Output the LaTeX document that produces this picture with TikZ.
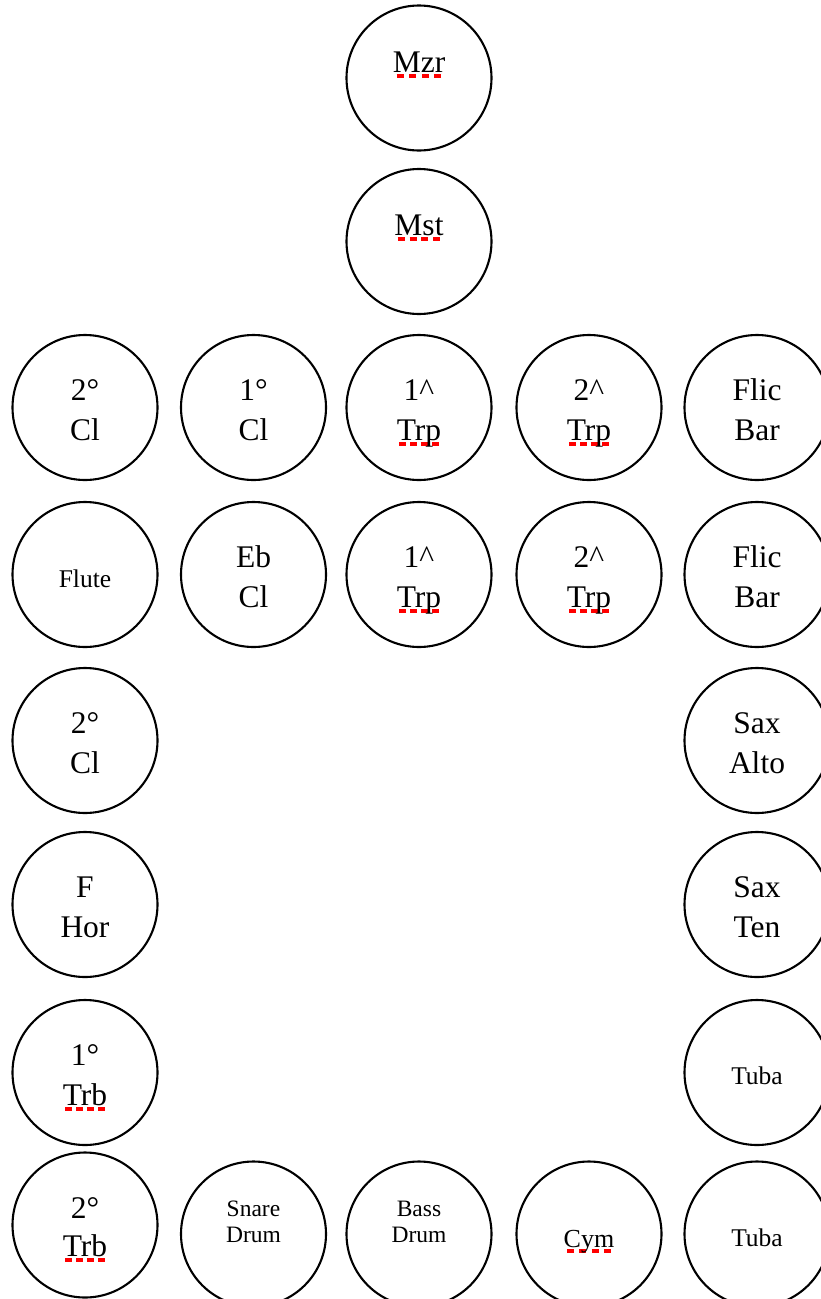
\documentclass[tikz,border=0pt]{standalone}
\usepackage{fontspec}
\setmainfont{Liberation Serif}
\newsavebox\sqbox
\newcommand\squig[1]{\sbox\sqbox{#1}\leavevmode\rlap{\color{red}\raisebox{-6pt}{\hbox to\wd\sqbox{\xleaders\hbox to 10.5pt{\hss\rule{7pt}{4pt}\hss}\hfil}}}\usebox\sqbox}
\begin{document}
\begin{tikzpicture}[x=1pt,y=-1pt,
  seat/.style={circle,draw=black,line width=2.1pt,minimum size=145pt,inner sep=0pt},
  big/.style={anchor=base,inner sep=0pt,font=\fontsize{31.5}{38}\selectfont},
  mid/.style={anchor=base,inner sep=0pt,font=\fontsize{26}{30}\selectfont},
  small/.style={anchor=base,inner sep=0pt,font=\fontsize{25.5}{30}\selectfont},
  tiny/.style={anchor=base,inner sep=0pt,font=\fontsize{23.5}{26}\selectfont}]
\useasboundingbox (0,0) rectangle (821,1299);
\clip (0,0) rectangle (821,1299);
% circles
\node[seat] (mzr) at (419,78) {};
\node[seat] (mst) at (419,241.5) {};
\node[seat] (cla) at (85,407.5) {};
\node[seat] (clb) at (253.5,407.5) {};
\node[seat] (trpa) at (419,407.5) {};
\node[seat] (trpb) at (589,407.5) {};
\node[seat] (flica) at (757,407.5) {};
\node[seat] (flute) at (85,574.5) {};
\node[seat] (ebcl) at (253.5,574.5) {};
\node[seat] (trpc) at (419,574.5) {};
\node[seat] (trpd) at (589,574.5) {};
\node[seat] (flicb) at (757,574.5) {};
\node[seat] (clc) at (85,740.5) {};
\node[seat] (saxa) at (757,740.5) {};
\node[seat] (fhor) at (85,904.5) {};
\node[seat] (saxt) at (757,904.5) {};
\node[seat] (trba) at (85,1072.5) {};
\node[seat] (tubaa) at (757,1072.5) {};
\node[seat] (trbb) at (85,1225) {};
\node[seat] (snare) at (253.5,1234) {};
\node[seat] (bass) at (419,1234) {};
\node[seat] (cym) at (589,1234) {};
\node[seat] (tubab) at (757,1234) {};
% labels
\path (mzr.center) ++(0,-6) node[big] (mzr-t) {\squig{Mzr}};
\path (mst.center) ++(0,-6.5) node[big] (mst-t) {\squig{Mst}};
\path (cla.center) ++(0,-7) node[big] (cla-1) {2°};
\path (cla.center) ++(0,32.5) node[big] (cla-2) {Cl};
\path (clb.center) ++(0,-7) node[big] (clb-1) {1°};
\path (clb.center) ++(0,32.5) node[big] (clb-2) {Cl};
\path (trpa.center) ++(0,-7) node[big] (trpa-1) {1\textasciicircum};
\path (trpa.center) ++(0,32.5) node[big] (trpa-2) {\squig{Trp}};
\path (trpb.center) ++(0,-7) node[big] (trpb-1) {2\textasciicircum};
\path (trpb.center) ++(0,32.5) node[big] (trpb-2) {\squig{Trp}};
\path (flica.center) ++(0,-7) node[big] (flica-1) {Flic};
\path (flica.center) ++(0,32.5) node[big] (flica-2) {Bar};
\path (flute.center) ++(0,12.5) node[small] (flute-t) {Flute};
\path (ebcl.center) ++(0,-7) node[big] (ebcl-1) {Eb};
\path (ebcl.center) ++(0,32.5) node[big] (ebcl-2) {Cl};
\path (trpc.center) ++(0,-7) node[big] (trpc-1) {1\textasciicircum};
\path (trpc.center) ++(0,32.5) node[big] (trpc-2) {\squig{Trp}};
\path (trpd.center) ++(0,-7) node[big] (trpd-1) {2\textasciicircum};
\path (trpd.center) ++(0,32.5) node[big] (trpd-2) {\squig{Trp}};
\path (flicb.center) ++(0,-7) node[big] (flicb-1) {Flic};
\path (flicb.center) ++(0,32.5) node[big] (flicb-2) {Bar};
\path (clc.center) ++(0,-7) node[big] (clc-1) {2°};
\path (clc.center) ++(0,32.5) node[big] (clc-2) {Cl};
\path (saxa.center) ++(0,-7) node[big] (saxa-1) {Sax};
\path (saxa.center) ++(0,32.5) node[big] (saxa-2) {Alto};
\path (fhor.center) ++(0,-7) node[big] (fhor-1) {F};
\path (fhor.center) ++(0,32.5) node[big] (fhor-2) {Hor};
\path (saxt.center) ++(0,-7) node[big] (saxt-1) {Sax};
\path (saxt.center) ++(0,32.5) node[big] (saxt-2) {Ten};
\path (trba.center) ++(0,-7) node[big] (trba-1) {1°};
\path (trba.center) ++(0,32.5) node[big] (trba-2) {\squig{Trb}};
\path (tubaa.center) ++(0,12) node[small] (tubaa-t) {Tuba};
\path (trbb.center) ++(0,-7) node[big] (trbb-1) {2°};
\path (trbb.center) ++(0,31) node[big] (trbb-2) {\squig{Trb}};
\path (snare.center) ++(0,-18) node[tiny] (snare-1) {Snare};
\path (snare.center) ++(0,8) node[tiny] (snare-2) {Drum};
\path (bass.center) ++(0,-18) node[tiny] (bass-1) {Bass};
\path (bass.center) ++(0,8) node[tiny] (bass-2) {Drum};
\path (cym.center) ++(0,13) node[mid] (cym-t) {\squig{Cym}};
\path (tubab.center) ++(0,12) node[small] (tubab-t) {Tuba};
\end{tikzpicture}
\end{document}
